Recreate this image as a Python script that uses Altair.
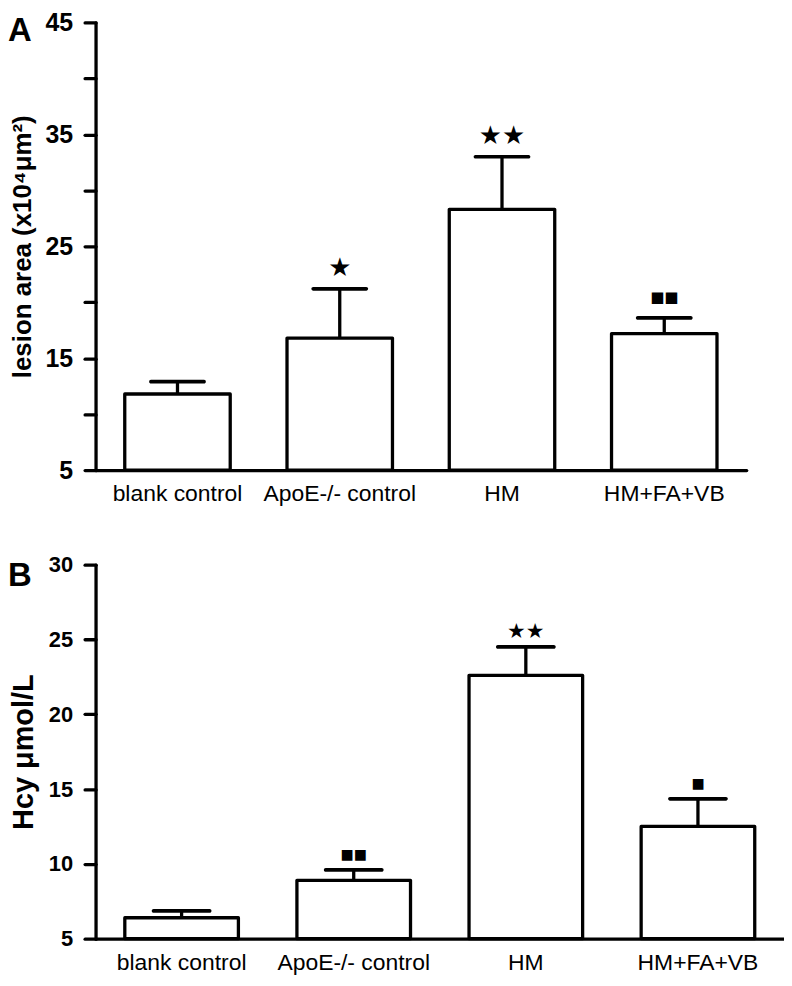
import altair as alt
import pandas as pd

groups = ["blank control", "ApoE-/- control", "HM", "HM+FA+VB"]

lesion_mean = [11.8, 16.8, 28.3, 17.2]
lesion_err = [1.1, 4.4, 4.7, 1.4]
lesion_marks = ["", "★", "★★", "■■"]

hcy_mean = [6.4, 8.9, 22.6, 12.5]
hcy_err = [0.46, 0.7, 1.9, 1.85]
hcy_marks = ["", "■■", "★★", "■"]

lesion_ticks = [5, 10, 15, 20, 25, 30, 35, 40, 45]
hcy_ticks = [5, 10, 15, 20, 25, 30]

FONT = "Liberation Sans"
LW = 3.3


def panel(means, errs, marks, ticks, domain, title, letter, width, height,
          label_size, title_size, label_expr, pad_inner, pad_outer,
          mark_dy, star_size, square_size, letter_y, cap_size):
    df = pd.DataFrame({
        "group": groups,
        "mean": means,
        "hi": [m + e for m, e in zip(means, errs)],
        "mark": marks,
    })
    df["base"] = domain[0]
    x = alt.X("group:N", sort=groups, title=None,
              scale=alt.Scale(paddingInner=pad_inner, paddingOuter=pad_outer),
              axis=alt.Axis(labelAngle=0, ticks=False, labelFont=FONT,
                            labelFontSize=23, labelFontWeight="normal",
                            labelColor="black", labelPadding=13,
                            domainColor="black", domainWidth=LW,
                            domainCap="round", labelLimit=300))
    yscale = alt.Scale(domain=domain, nice=False, zero=False)
    yaxis = alt.Axis(values=ticks, labelExpr=label_expr, grid=False,
                     tickSize=11, tickWidth=LW, tickColor="black",
                     tickCap="round",
                     domainColor="black", domainWidth=LW, domainCap="round",
                     labelFont=FONT, labelFontSize=label_size,
                     labelFontWeight="bold", labelColor="black",
                     labelPadding=12,
                     titleFont=FONT, titleFontSize=title_size,
                     titleFontWeight="bold", titleColor="black",
                     titlePadding=10)
    base = alt.Chart(df)
    bars = base.mark_bar(fill="white", stroke="black", strokeWidth=LW,
                         strokeJoin="round").encode(
        x=x,
        y=alt.Y("mean:Q", scale=yscale, axis=yaxis, title=title),
        y2="base:Q",
    )
    rule = base.mark_rule(color="black", strokeWidth=LW).encode(
        x=alt.X("group:N", sort=groups), y="mean:Q", y2="hi:Q")
    cap = base.mark_tick(color="black", size=cap_size, thickness=LW + 0.4,
                         cornerRadius=1.8, opacity=1).encode(
        x=alt.X("group:N", sort=groups), y="hi:Q")
    stars = base.transform_filter("indexof(datum.mark, '★') >= 0").mark_text(
        font="DejaVu Sans", fontSize=star_size, color="black",
        baseline="middle", dy=mark_dy).encode(
        x=alt.X("group:N", sort=groups), y="hi:Q", text="mark:N")
    squares = base.transform_filter("indexof(datum.mark, '■') >= 0").mark_text(
        font="DejaVu Sans", fontSize=square_size, color="black",
        baseline="middle", dy=mark_dy).encode(
        x=alt.X("group:N", sort=groups), y="hi:Q", text="mark:N")
    lab = alt.Chart(pd.DataFrame({"letter": [letter]})).mark_text(
        font=FONT, fontSize=33, fontWeight="bold", color="black",
        align="left", baseline="top").encode(
        text="letter:N", x=alt.value(-88), y=alt.value(letter_y))
    return alt.layer(bars, rule, cap, stars, squares, lab).properties(
        width=width, height=height)


pa = panel(lesion_mean, lesion_err, lesion_marks, lesion_ticks, [5, 45],
           "lesion area (x10⁴μm²)", "A", 654, 450, 25, 26,
           "(datum.value - 5) % 10 == 0 ? datum.label : ''",
           0.35, 0.18, -21, 26, 15, -7, 57)
pb = panel(hcy_mean, hcy_err, hcy_marks, hcy_ticks, [5, 30],
           "Hcy μmol/L", "B", 692, 376, 22, 29,
           "datum.label", 0.34, 0.17, -15, 21, 14, -5, 60)

chart = alt.vconcat(pa, pb, spacing=95, bounds="flush").properties(
    padding={"left": 0, "top": 0, "right": 0, "bottom": 0}
).configure(background="white").configure_view(strokeWidth=0, stroke=None)

chart.save("out.html", embed_options={"renderer": "svg", "actions": False})
